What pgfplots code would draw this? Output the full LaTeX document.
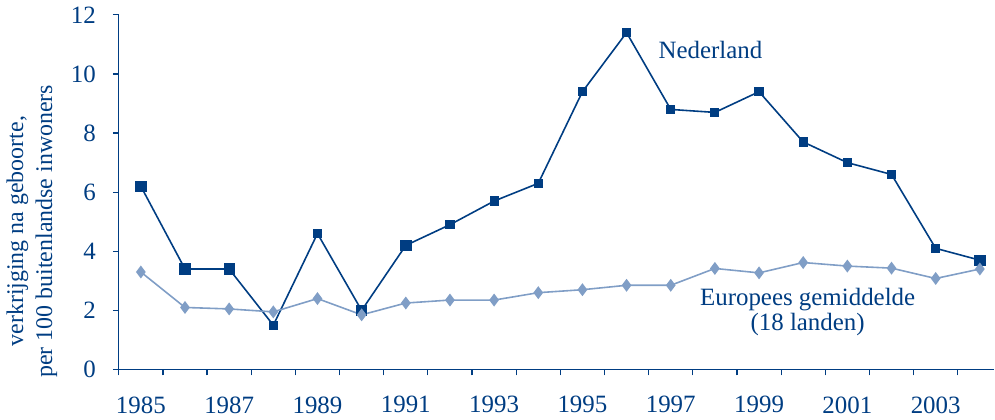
\documentclass[border=0pt]{standalone}
\usepackage{pgfplots}
\pgfplotsset{compat=1.18}
\usepackage{fontspec}
\setmainfont{Liberation Serif}
\definecolor{nlblue}{RGB}{0,61,130}
\definecolor{eublue}{RGB}{128,158,198}
\begin{document}
\begin{tikzpicture}
\begin{axis}[
  scale only axis, width=439.5pt, height=178pt,
  xmin=1984.5, xmax=2004.33, ymin=0, ymax=12,
  axis x line=bottom, axis y line=left,
  axis line style={-, nlblue, line width=0.6pt},
  xtick={1985,1987,...,2003},
  minor xtick={1984.5,1985.5,...,2003.5},
  major x tick style={draw=none},
  minor x tick style={nlblue, line width=0.6pt},
  ytick={0,2,...,12},
  y tick style={nlblue, line width=0.6pt},
  tick align=outside, major tick length=3pt, minor tick length=3pt,
  /pgf/number format/1000 sep={},
  /pgf/number format/assume math mode=true,
  tick label style={font=\fontsize{12.5}{14}\selectfont, text=nlblue},
  xticklabel shift=7pt,
  yticklabel shift=5pt,
  ylabel={verkrijging na geboorte,\\per 100 buitenlandse inwoners},
  ylabel style={align=center, font=\fontsize{12}{14.5}\selectfont, text=nlblue,
    at={(ticklabel cs:0.39)}},
  clip=false,
]
\addplot[nlblue, line width=0.8pt, mark=square*, mark size=1.9pt,
  mark options={solid}] coordinates {
 (1985,6.2) (1986,3.4) (1987,3.4) (1988,1.5) (1989,4.6) (1990,2.0)
 (1991,4.2) (1992,4.9) (1993,5.7) (1994,6.3) (1995,9.4) (1996,11.4)
 (1997,8.8) (1998,8.7) (1999,9.4) (2000,7.7) (2001,7.0) (2002,6.6)
 (2003,4.1) (2004,3.7)};
\addplot[nlblue, only marks, mark=square*, mark size=2.6pt] coordinates {
 (1985,6.2) (1986,3.4) (1987,3.4) (1990,2.0) (1991,4.2) (2004,3.7)};
\addplot[eublue, line width=0.8pt, mark=diamond*, mark size=2.6pt] coordinates {
 (1985,3.3) (1986,2.1) (1987,2.05) (1988,1.95) (1989,2.4) (1990,1.85)
 (1991,2.25) (1992,2.35) (1993,2.35) (1994,2.6) (1995,2.7) (1996,2.85)
 (1997,2.85) (1998,3.42) (1999,3.27) (2000,3.62) (2001,3.5) (2002,3.43)
 (2003,3.08) (2004,3.4)};
\node[text=nlblue, font=\fontsize{12.5}{14}\selectfont] at (axis cs:1997.9,10.82) {Nederland};
\node[text=nlblue, align=center, font=\fontsize{12.5}{10}\selectfont] at (axis cs:2000.1,1.95) {Europees gemiddelde\\(18 landen)};
\end{axis}
\end{tikzpicture}
\end{document}
